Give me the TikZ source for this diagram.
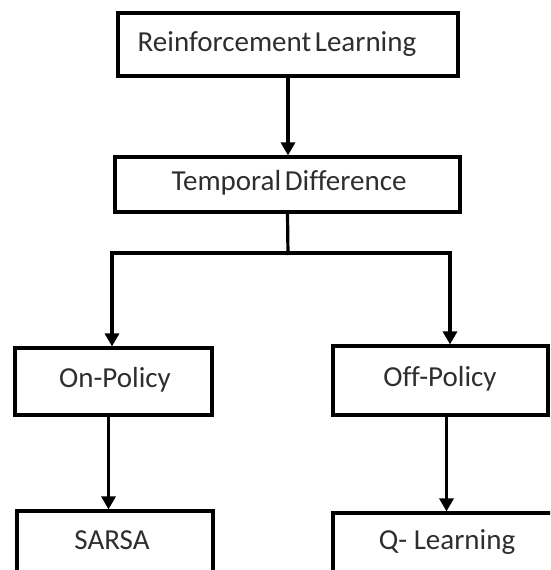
\documentclass[tikz,border=0pt]{standalone}
\usepackage{fontspec}
\setmainfont[Ligatures=NoCommon]{Carlito}
\usetikzlibrary{arrows.meta}
\begin{document}
\begin{tikzpicture}[x=1pt,y=-1pt,
  box/.style={draw=black,line width=3.2pt,minimum width=#1,inner sep=0pt},
  lbl/.style={font=\fontsize{29}{32}\selectfont,text=black!82},
  arr/.style={line width=3.2pt,-{Triangle[length=13pt,width=14pt]}},
  link/.style={line width=3.2pt}]
\useasboundingbox (0,0) rectangle (550,570);
\clip (0,0) rectangle (550,570);
% boxes
\node[box=340pt,minimum height=63pt] (rl) at (288,44.5) {};
\node[lbl] (rlt) at (277,44) {Reinforcement\hspace{-3pt} Learning};
\node[box=345pt,minimum height=55pt] (td) at (287.5,184.5) {};
\node[lbl] (tdt) at (289,183) {Temporal\hspace{-3pt} Difference};
\node[box=197pt,minimum height=67pt] (on) at (113.5,381.5) {};
\node[lbl] (ont) at (115,380) {On-Policy};
\node[box=215pt,minimum height=69pt] (off) at (440.5,380.5) {};
\node[lbl] (offt) at (440,379) {Off-Policy};
\node[box=196pt,minimum height=64pt] (sa) at (115,543) {};
\node[lbl] (sat) at (112,540) {SARSA};
\node[box=220pt,minimum height=64pt] (ql) at (443,545) {};
\node[lbl] (qlt) at (447,542) {Q- Learning};
% connectors
\coordinate (j) at (288,253);
\coordinate (jl) at (112,253);
\coordinate (jr) at (450,253);
\draw[arr] (rl.south) -- (rl.south |- td.north);
\draw[link] (td.south) -- ([yshift=-2pt]j);
\draw[link,line cap=rect] (jl) -- (jr);
\draw[arr] (jl) -- (jl |- on.north);
\draw[arr] (jr) -- (jr |- off.north);
\draw[arr] ([xshift=-5pt]on.south) -- ([xshift=-5pt]on.south |- sa.north);
\draw[arr] ([xshift=6pt]off.south) -- ([xshift=6pt]off.south |- ql.north);
\end{tikzpicture}
\end{document}
